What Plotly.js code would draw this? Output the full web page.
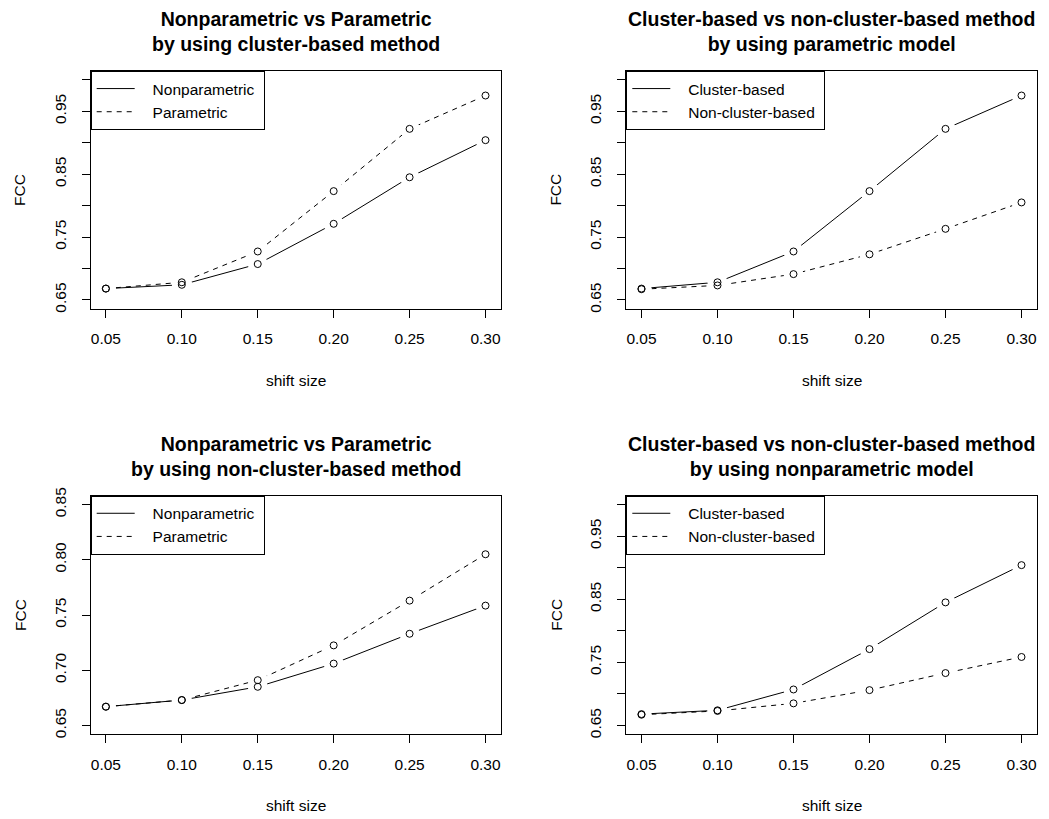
<!DOCTYPE html>
<html>
<head>
<meta charset="utf-8">
<script src="https://cdn.plot.ly/plotly-3.0.1.min.js"></script>
<style>html,body{margin:0;padding:0;background:#fff;}#chart{width:1049px;height:819px;}</style>
</head>
<body>
<div id="chart"></div>
<script>
// ---- data ----
const shiftSize = [0.05, 0.10, 0.15, 0.20, 0.25, 0.30];
const xTickText = ["0.05", "0.10", "0.15", "0.20", "0.25", "0.30"];
const clusterNonparametric = [0.668, 0.674, 0.707, 0.771, 0.845, 0.904];
const clusterParametric = [0.668, 0.678, 0.727, 0.823, 0.922, 0.975];
const nonclusterNonparametric = [0.667, 0.673, 0.685, 0.706, 0.733, 0.7585];
const nonclusterParametric = [0.667, 0.673, 0.691, 0.7225, 0.763, 0.805];
const yTicksWide = [0.65, 0.70, 0.75, 0.80, 0.85, 0.90, 0.95, 1.00];
const yTickTextWide = ["0.65", "", "0.75", "", "0.85", "", "0.95", ""];
const yTicksNarrow = [0.65, 0.70, 0.75, 0.80, 0.85];
const yTickTextNarrow = ["0.65", "0.70", "0.75", "0.80", "0.85"];
const titles = [
  "Nonparametric vs Parametric<br>by using cluster-based method",
  "Cluster-based vs non-cluster-based method<br>by using parametric model",
  "Nonparametric vs Parametric<br>by using non-cluster-based method",
  "Cluster-based vs non-cluster-based method<br>by using nonparametric model"
];

const FONT = "Liberation Sans, Arial, sans-serif";
const W = 1049, H = 819;
const px = v => v / W;
const py = v => 1 - v / H;
const NB = "\u00a0";

const xDom = [[px(90.7), px(500.7)], [px(626.3), px(1036.7)]];
const yDom = [[py(308.7), py(71)], [py(734.3), py(495.7)]];
const xRange = [0.04, 0.31];
const wide = [0.636, 1.014];
const narrow = [0.642, 0.858];

// panels: [axis suffix, overlay suffix, legend, y range, series]
const panels = [
  ["", "5", "legend", wide, [["Nonparametric", clusterNonparametric, "solid"], ["Parametric", clusterParametric, "5px,5px"]]],
  ["2", "6", "legend2", wide, [["Cluster-based", clusterParametric, "solid"], ["Non-cluster-based", nonclusterParametric, "5px,5px"]]],
  ["3", "7", "legend3", narrow, [["Nonparametric", nonclusterNonparametric, "solid"], ["Parametric", nonclusterParametric, "5px,5px"]]],
  ["4", "8", "legend4", wide, [["Cluster-based", clusterNonparametric, "solid"], ["Non-cluster-based", nonclusterNonparametric, "5px,5px"]]]
];

const traces = [];
panels.forEach(([ax, ov, leg, yr, ser]) => {
  ser.forEach(([name, vals, dash]) => {
    traces.push({x: shiftSize, y: vals, name: NB + NB + NB + name + NB, type: "scatter", mode: "lines",
      line: {color: "black", width: 1, dash: dash}, xaxis: "x" + ax, yaxis: "y" + ax,
      legend: leg, showlegend: true});
  });
  // white gaps around each point (R type="b" look), on an overlay subplot above the lines
  ser.forEach(([name, vals]) => {
    traces.push({x: shiftSize, y: vals, type: "scatter", mode: "markers", hoverinfo: "skip",
      marker: {symbol: "circle", size: 20, color: "white", line: {width: 0}},
      xaxis: "x" + ov, yaxis: "y" + ov, showlegend: false});
  });
  ser.forEach(([name, vals]) => {
    traces.push({x: shiftSize, y: vals, name: name, type: "scatter", mode: "markers",
      marker: {symbol: "circle-open", size: 7, color: "black", line: {width: 1, color: "black"}},
      xaxis: "x" + ov, yaxis: "y" + ov, showlegend: false});
  });
});

function xAxis(dom, anchor) {
  return {
    domain: dom, range: xRange, tickmode: "array", tickvals: shiftSize, ticktext: xTickText,
    ticks: "outside", ticklen: 8, tickcolor: "black", tickwidth: 1, anchor: anchor,
    showline: true, linecolor: "black", linewidth: 1, mirror: true,
    showgrid: false, zeroline: false, ticklabelstandoff: 8,
    tickfont: {family: FONT, size: 15.5, color: "black"}
  };
}
function yAxis(dom, range, vals, text, anchor) {
  return {
    domain: dom, range: range, tickmode: "array", tickvals: vals, ticktext: text,
    ticks: "outside", ticklen: 8, tickcolor: "black", tickwidth: 1, tickangle: -90,
    showline: true, linecolor: "black", linewidth: 1, mirror: true,
    showgrid: false, zeroline: false, ticklabelstandoff: 10, anchor: anchor,
    tickfont: {family: FONT, size: 15.5, color: "black"}
  };
}
function legendAt(xl, yt) {
  return {
    x: xl, y: yt, xanchor: "left", yanchor: "top", xref: "paper", yref: "paper",
    bgcolor: "white", bordercolor: "black", borderwidth: 1,
    font: {family: FONT, size: 15.5, color: "black"}, itemwidth: 38,
    tracegroupgap: 0
  };
}

const annotations = [];
const titleY = [py(31.7), py(456.4)];
const xTitleY = [py(380), py(805.6)];
const centersX = [px(295.7), px(831.5)];
const fccX = [px(20), px(555.7)];
const fccY = [py(189.9), py(615)];
for (let r = 0; r < 2; r++) {
  for (let c = 0; c < 2; c++) {
    annotations.push({text: "<b>" + titles[r * 2 + c].replace("<br>", "</b><br><b>") + "</b>",
      x: centersX[c], y: titleY[r], xref: "paper", yref: "paper", showarrow: false,
      xanchor: "center", yanchor: "middle", font: {family: FONT, size: 19.5, color: "black"}});
    annotations.push({text: "shift size", x: centersX[c], y: xTitleY[r], xref: "paper", yref: "paper",
      showarrow: false, xanchor: "center", yanchor: "middle", font: {family: FONT, size: 15.5, color: "black"}});
    annotations.push({text: "FCC", x: fccX[c], y: fccY[r], xref: "paper", yref: "paper", textangle: -90,
      showarrow: false, xanchor: "center", yanchor: "middle", font: {family: FONT, size: 15.5, color: "black"}});
  }
}

const layout = {
  width: W, height: H, margin: {l: 0, r: 0, t: 0, b: 0},
  paper_bgcolor: "white", plot_bgcolor: "white", showlegend: true,
  font: {family: FONT, color: "black"},
  xaxis: xAxis(xDom[0], "y"), yaxis: yAxis(yDom[0], wide, yTicksWide, yTickTextWide, "x"),
  xaxis2: xAxis(xDom[1], "y2"), yaxis2: yAxis(yDom[0], wide, yTicksWide, yTickTextWide, "x2"),
  xaxis3: xAxis(xDom[0], "y3"), yaxis3: yAxis(yDom[1], narrow, yTicksNarrow, yTickTextNarrow, "x3"),
  xaxis4: xAxis(xDom[1], "y4"), yaxis4: yAxis(yDom[1], wide, yTicksWide, yTickTextWide, "x4"),
  legend: legendAt(xDom[0][0], yDom[0][1]),
  legend2: legendAt(xDom[1][0], yDom[0][1]),
  legend3: legendAt(xDom[0][0], yDom[1][1]),
  legend4: legendAt(xDom[1][0], yDom[1][1]),
  annotations: annotations
};
// overlay subplots (invisible axes, same ranges) so gaps and points sit above the lines
panels.forEach(([ax, ov, leg, yr]) => {
  layout["xaxis" + ov] = {overlaying: "x" + ax, range: xRange, visible: false, anchor: "y" + ov};
  layout["yaxis" + ov] = {overlaying: "y" + ax, range: yr, visible: false, anchor: "x" + ov};
});

Plotly.newPlot("chart", traces, layout, {staticPlot: true, displayModeBar: false});
</script>
</body>
</html>
